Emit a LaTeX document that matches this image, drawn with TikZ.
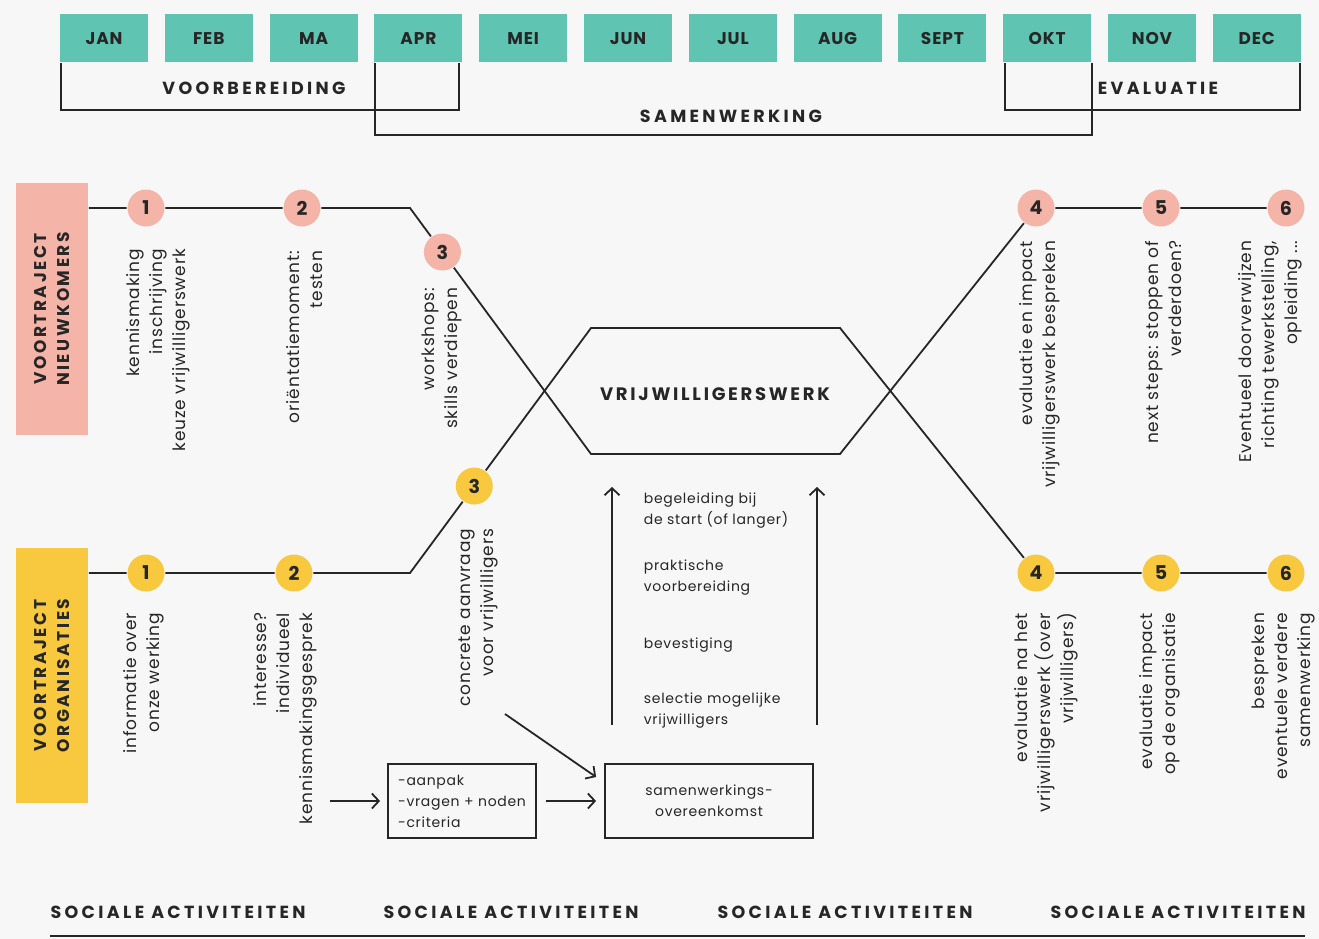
\documentclass[tikz,border=0pt]{standalone}
\usepackage{fontspec}
\setmainfont{Poppins}
\newfontfamily\capsf{Poppins}[LetterSpace=15]
\newfontfamily\headf{Poppins}[LetterSpace=19]
\newfontfamily\monf{Poppins}[LetterSpace=5]
\newfontfamily\txtf{Poppins}[LetterSpace=5]
\usetikzlibrary{calc,arrows.meta}
\definecolor{bgc}{HTML}{F7F7F7}
\definecolor{tealc}{HTML}{5FC4B1}
\definecolor{pinkc}{HTML}{F4B4A8}
\definecolor{yelc}{HTML}{F8C93F}
\definecolor{ink}{HTML}{262626}
\begin{document}
\begin{tikzpicture}[x=1pt,y=-1pt,line width=1.8pt,draw=ink,
  month/.style={fill=tealc,minimum width=88pt,minimum height=48pt,inner sep=0pt,text=ink,
    font=\monf\bfseries\fontsize{17}{17}\selectfont},
  head/.style={text=ink,inner sep=0pt,font=\headf\bfseries\fontsize{17.5}{17.5}\selectfont},
  trackbox/.style={rotate=90,inner sep=0pt,align=center,text=ink,
    font=\capsf\bfseries\fontsize{17}{23}\selectfont},
  dot/.style={circle,minimum size=37pt,inner sep=0pt,text=ink,
    font=\bfseries\fontsize{19}{19}\selectfont},
  pdot/.style={dot,fill=pinkc},
  ydot/.style={dot,fill=yelc},
  vtext/.style={rotate=90,anchor=east,align=right,inner sep=0pt,text=ink,
    font=\txtf\fontsize{17}{23}\selectfont},
  mtext/.style={anchor=west,align=left,inner sep=0pt,text=ink,
    font=\txtf\fontsize{14}{21}\selectfont},
  boxs/.style={draw=ink,inner sep=7pt,text=ink,font=\txtf\fontsize{14}{21}\selectfont},
  arr/.style={draw=ink,-{Straight Barb[length=7pt,width=15pt]}}
]
\fill[bgc] (0,0) rectangle (1319,939);
\useasboundingbox (0,0) rectangle (1319,939);

% months
\foreach \m [count=\i from 0] in {JAN,FEB,MA,APR,MEI,JUN,JUL,AUG,SEPT,OKT,NOV,DEC}
  \node[month] (m\i) at ({104+104.8*\i},38.5) {\m};

% brackets
\draw ([xshift=2pt]m0.south west) -- ++(0,47) -| ([xshift=-4pt]m3.south east);
\draw ([xshift=1.5pt]m3.south west) -- ++(0,72) -| ([xshift=0pt]m9.south east);
\draw ([xshift=3pt]m9.south west) -- ++(0,47) -| ([xshift=-2pt]m11.south east);
\node[head] (voorb) at (254,88) {VOORBEREIDING};
\node[head] (samen) at (731,116) {SAMENWERKING};
\node[head] (evalu) at (1158,88) {EVALUATIE};

% track boxes
\node[trackbox,fill=pinkc,minimum width=252pt,minimum height=72pt] (nk) at (52,309) {VOORTRAJECT\\NIEUWKOMERS};
\node[trackbox,fill=yelc,minimum width=255pt,minimum height=72pt] (org) at (52,675.5) {VOORTRAJECT\\ORGANISATIES};

% geometry
\coordinate (pb) at (410,208);
\coordinate (yb) at (410,573);
\coordinate (hTL) at (591,328);
\coordinate (hTR) at (840,328);
\coordinate (hBL) at (591,454);
\coordinate (hBR) at (840,454);

% circles
\node[pdot] (p1) at (146,208) {1};
\node[pdot] (p2) at (302,208) {2};
\node[pdot] (p3) at ($(pb)!0.179!(hBL)$) {3};
\node[pdot] (p4) at (1036,208) {4};
\node[pdot] (p5) at (1161,208) {5};
\node[pdot] (p6) at (1286,208) {6};
\node[ydot] (y1) at (146,573) {1};
\node[ydot] (y2) at (294,573) {2};
\node[ydot] (y3) at ($(yb)!0.355!(hTL)$) {3};
\node[ydot] (y4) at (1036,573) {4};
\node[ydot] (y5) at (1161,573) {5};
\node[ydot] (y6) at (1286,573) {6};

% tracks
\draw (nk.south |- p1) -- (p1) -- (p2) -- (pb) -- (p3) -- (hBL) -- (hBR) -- (p4) -- (p5) -- (p6);
\draw (org.south |- y1) -- (y1) -- (y2) -- (yb) -- (y3) -- (hTL) -- (hTR) -- (y4) -- (y5) -- (y6);
\node[head,font=\capsf\bfseries\fontsize{18}{18}\selectfont] (vw) at (715,394) {VRIJWILLIGERSWERK};

% rotated texts
\node[vtext] (t1) at (158,248) {kennismaking\\inschrijving\\keuze vrijwilligerswerk};
\node[vtext] (t2) at (305,250) {oriëntatiemoment:\\testen};
\node[vtext] (t3) at (442,287) {workshops:\\skills verdiepen};
\node[vtext] (t4) at (1040,240) {evaluatie en impact\\vrijwilligerswerk bespreken};
\node[vtext] (t5) at (1164,240) {next steps: stoppen of\\verderdoen?};
\node[vtext] (t6) at (1270,240) {Eventueel doorverwijzen\\richting tewerkstelling,\\opleiding ...};
\node[vtext] (o1) at (144,612) {informatie over\\onze werking};
\node[vtext] (o2) at (285,612) {interesse?\\individueel\\kennismakingsgesprek};
\node[vtext] (o3) at (478,528) {concrete aanvraag\\voor vrijwilligers};
\node[vtext] (o4) at (1046,612) {evaluatie na het\\vrijwilligerswerk (over\\vrijwilligers)};
\node[vtext] (o5) at (1160,612) {evaluatie impact\\op de organisatie};
\node[vtext] (o6) at (1283,612) {bespreken\\eventuele verdere\\samenwerking};

% middle arrows and texts
\coordinate (a1s) at (612,725);
\coordinate (a1e) at (612,487);
\coordinate (a2s) at (817,725);
\coordinate (a2e) at (817,487);
\draw[arr] (a1s) -- (a1e);
\draw[arr] (a2s) -- (a2e);
\node[mtext] (s1) at (643,510.5) {begeleiding bij\\de start (of langer)};
\node[mtext] (s2) at (643,577.5) {praktische\\voorbereiding};
\node[mtext] (s3) at (643,645) {bevestiging};
\node[mtext] (s4) at (643,711) {selectie mogelijke\\vrijwilligers};

% boxes
\node[boxs,minimum width=148pt,minimum height=74pt,align=left] (b1) at (462,801) {-aanpak\\-vragen + noden\\-criteria};
\node[boxs,minimum width=208pt,minimum height=74pt,align=center] (b2) at (709,801) {samenwerkings-\\overeenkomst};
\coordinate (k0) at (330,801);
\coordinate (c0) at (505,714);
\draw[arr] (k0) -- ([xshift=-7pt]b1.west);
\draw[arr] ([xshift=9pt]b1.east) -- ([xshift=-8pt]b2.west);
\draw[arr] (c0) -- ([shift={(-8,-24)}]b2.west);

% bottom
\node[head] (sa1) at (178,912) {SOCIALE ACTIVITEITEN};
\node[head] (sa2) at (511,912) {SOCIALE ACTIVITEITEN};
\node[head] (sa3) at (845,912) {SOCIALE ACTIVITEITEN};
\node[head] (sa4) at (1178,912) {SOCIALE ACTIVITEITEN};
\coordinate (bl) at (50,936);
\coordinate (br) at (1305,936);
\draw (bl) -- (br);
\end{tikzpicture}
\end{document}
